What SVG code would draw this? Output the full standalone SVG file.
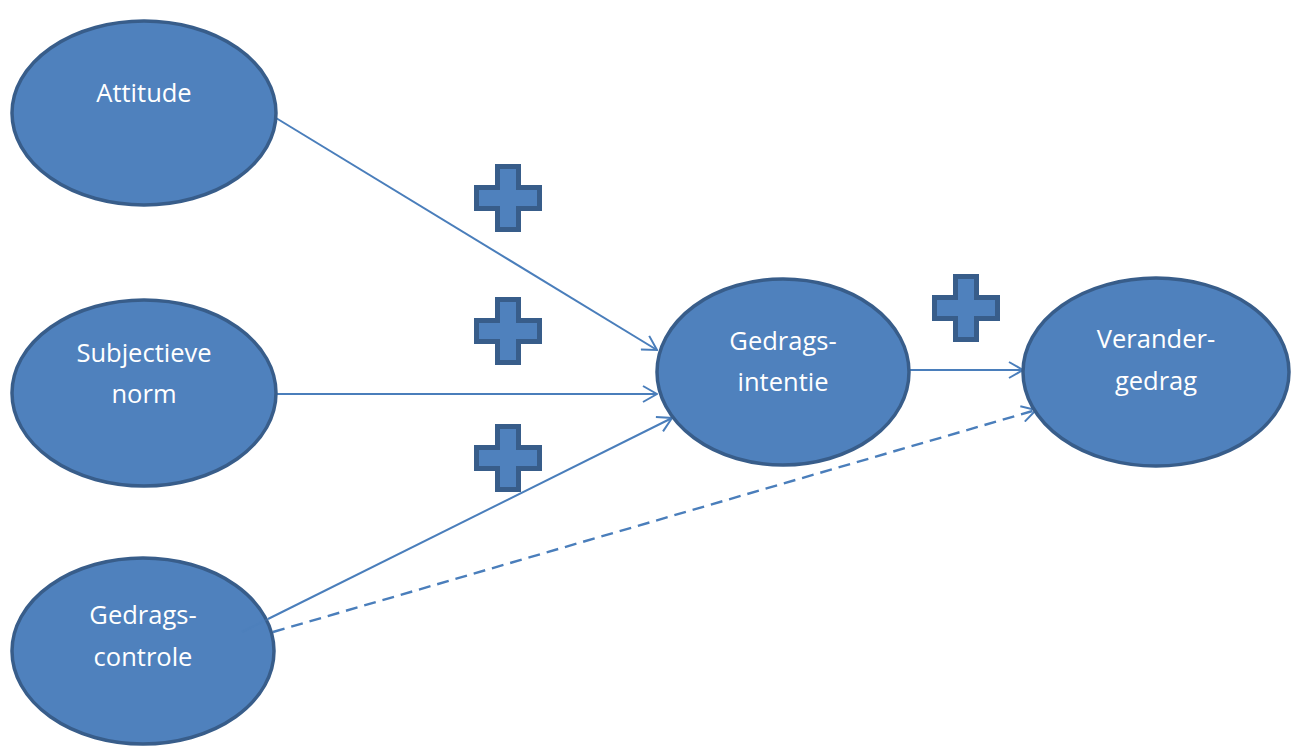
<svg xmlns="http://www.w3.org/2000/svg" width="1296" height="746" viewBox="0 0 1296 746">
  <style>
    .node { fill: #4F81BD; stroke: #385D8A; stroke-width: 3.5; }
    .label { fill: #FFFFFF; font-family: "Open Sans", "Liberation Sans", sans-serif; font-size: 25.5px; text-anchor: middle; }
    .edge { fill: none; stroke: #4A7EBB; stroke-width: 2; }
    .dashed { stroke-width: 2.4; stroke-dasharray: 12 7; }
    .plus { fill: #4F81BD; stroke: #385D8A; stroke-width: 5; stroke-linejoin: miter; }
  </style>
  <defs>
    <marker id="arrow" viewBox="0 0 16 18" refX="15" refY="9" markerWidth="16" markerHeight="18" markerUnits="userSpaceOnUse" orient="auto">
      <path d="M1,1 L15,9 L1,17" fill="none" stroke="#4A7EBB" stroke-width="2"/>
    </marker>
    <path id="plusShape" d="M-10.5,-31.5 H10.5 V-10.5 H31.5 V10.5 H10.5 V31.5 H-10.5 V10.5 H-31.5 V-10.5 H-10.5 Z"/>
  </defs>

  <rect width="1296" height="746" fill="#FFFFFF"/>

  <!-- connectors -->
  <g id="connectors">
    <line class="edge" x1="276" y1="118" x2="657" y2="350" marker-end="url(#arrow)"/>
    <line class="edge" x1="276" y1="394" x2="657" y2="394" marker-end="url(#arrow)"/>
    <line class="edge" x1="268" y1="619" x2="672" y2="418" marker-end="url(#arrow)"/>
    <line class="edge" x1="910" y1="370" x2="1023" y2="370" marker-end="url(#arrow)"/>
    <line class="edge dashed" x1="273" y1="632" x2="1036" y2="410" marker-end="url(#arrow)"/>
  </g>

  <!-- nodes -->
  <g id="attitude">
    <ellipse class="node" cx="144" cy="113" rx="132" ry="92"/>
    <text class="label" x="144" y="102">Attitude</text>
  </g>
  <g id="subjectieve-norm">
    <ellipse class="node" cx="144" cy="393" rx="132" ry="93"/>
    <text class="label" x="144" y="362">Subjectieve</text>
    <text class="label" x="144" y="403">norm</text>
  </g>
  <g id="gedragscontrole">
    <ellipse class="node" cx="143" cy="651" rx="131" ry="93"/>
    <!-- faint start of the connector showing through the node -->
    <line class="edge" x1="242" y1="632" x2="268" y2="619" stroke-opacity="0.35"/>
    <text class="label" x="143" y="624">Gedrags-</text>
    <text class="label" x="143" y="666">controle</text>
  </g>
  <g id="gedragsintentie">
    <ellipse class="node" cx="783" cy="372" rx="126" ry="93"/>
    <text class="label" x="783" y="350">Gedrags-</text>
    <text class="label" x="783" y="391">intentie</text>
  </g>
  <g id="verandergedrag">
    <ellipse class="node" cx="1156" cy="372" rx="133" ry="94"/>
    <text class="label" x="1156" y="348">Verander-</text>
    <text class="label" x="1156" y="390">gedrag</text>
  </g>

  <!-- plus signs -->
  <g id="plus-attitude"><use href="#plusShape" class="plus" transform="translate(508,198)"/></g>
  <g id="plus-norm"><use href="#plusShape" class="plus" transform="translate(508,331)"/></g>
  <g id="plus-controle"><use href="#plusShape" class="plus" transform="translate(508,458)"/></g>
  <g id="plus-intentie"><use href="#plusShape" class="plus" transform="translate(966,308)"/></g>
</svg>
